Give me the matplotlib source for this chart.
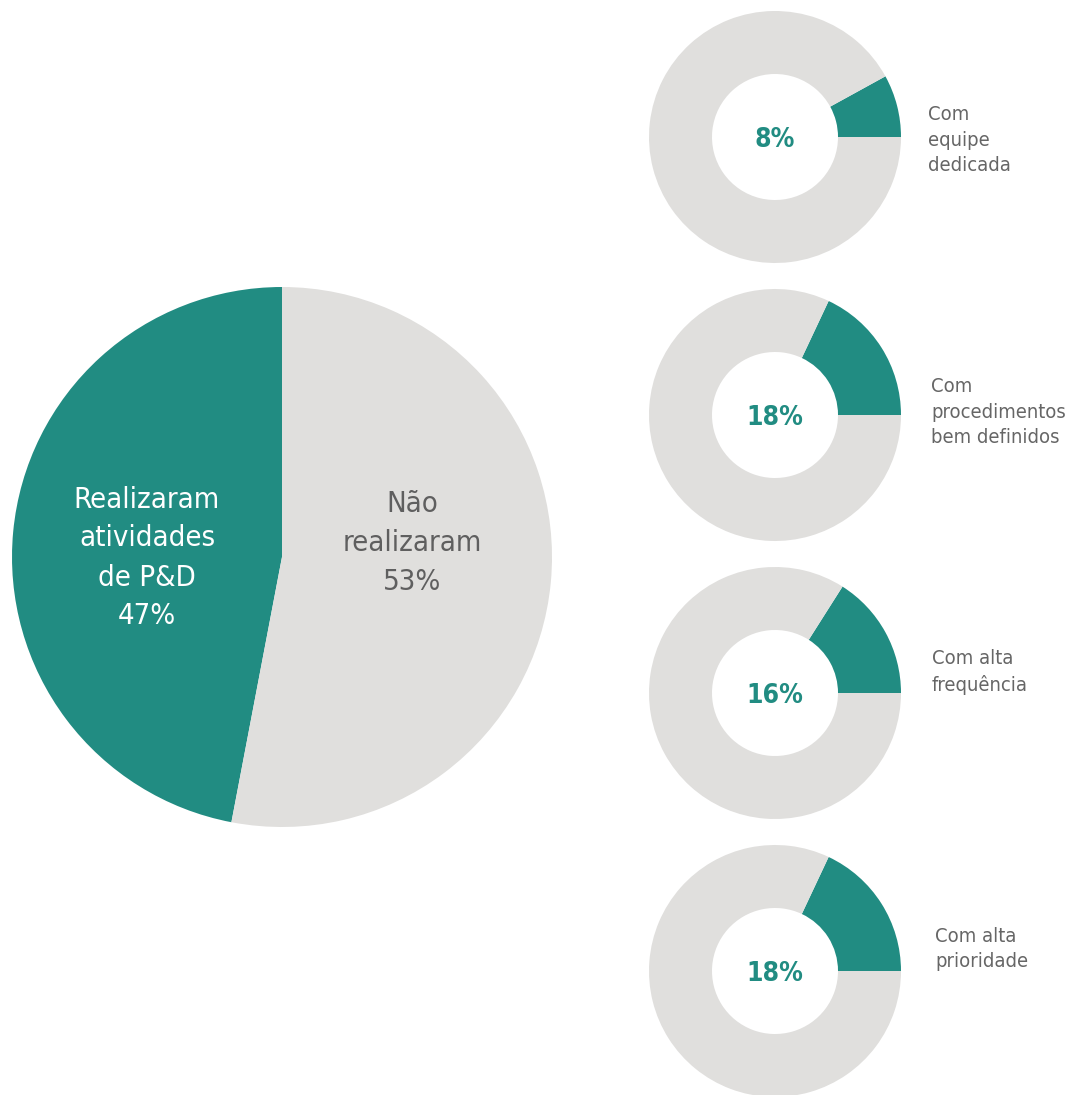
import matplotlib
matplotlib.use("Agg")
import matplotlib.pyplot as plt

TEAL = "#218C82"
GRAY = "#E0DFDD"

# big pie
main_labels = ["Realizaram\natividades\nde P&D\n47%", "Não\nrealizaram\n53%"]
main_values = [47, 53]

# small donuts
donut_pcts = [8, 18, 16, 18]
donut_texts = ["8%", "18%", "16%", "18%"]
donut_labels = ["Com\nequipe\ndedicada",
                "Com\nprocedimentos\nbem definidos",
                "Com alta\nfrequência",
                "Com alta\nprioridade"]

plt.rcParams['font.family'] = ['DejaVu Sans']
plt.rcParams['font.stretch'] = 'condensed'

W, H = 1073, 1095
fig = plt.figure(figsize=(W / 100, H / 100), dpi=100)
ax = fig.add_axes([0, 0, 1, 1])

cx, cy, r = 282, H - 557, 270
ax.pie(main_values, colors=[TEAL, GRAY], startangle=90, counterclock=True,
       center=(cx, cy), radius=r, frame=True,
       wedgeprops=dict(linewidth=0))
ax.text(147, H - 558, main_labels[0], color="white", fontsize=21,
        ha="center", va="center", linespacing=1.5)
ax.text(412, H - 543, main_labels[1], color="#5f5f5f", fontsize=21,
        ha="center", va="center", linespacing=1.5)

dx = 775
dys = [137, 415, 693, 971]
label_x = [928, 931, 932, 935]
label_y = [140, 412, 672, 949]
for i, p in enumerate(donut_pcts):
    y = H - dys[i]
    ax.pie([p, 100 - p], colors=[TEAL, GRAY], startangle=0, counterclock=True,
           center=(dx, y), radius=126, frame=True,
           wedgeprops=dict(width=63, linewidth=0))
    ax.text(dx, y - 3, donut_texts[i], color=TEAL, fontsize=19,
            fontweight="bold", ha="center", va="center")
    ax.text(label_x[i], H - label_y[i], donut_labels[i], color="#666666",
            fontsize=14.5, ha="left", va="center", linespacing=1.42)

ax.set_xlim(0, W)
ax.set_ylim(0, H)
ax.set_aspect('equal')
ax.axis('off')
fig.savefig("out.png", dpi=100)
